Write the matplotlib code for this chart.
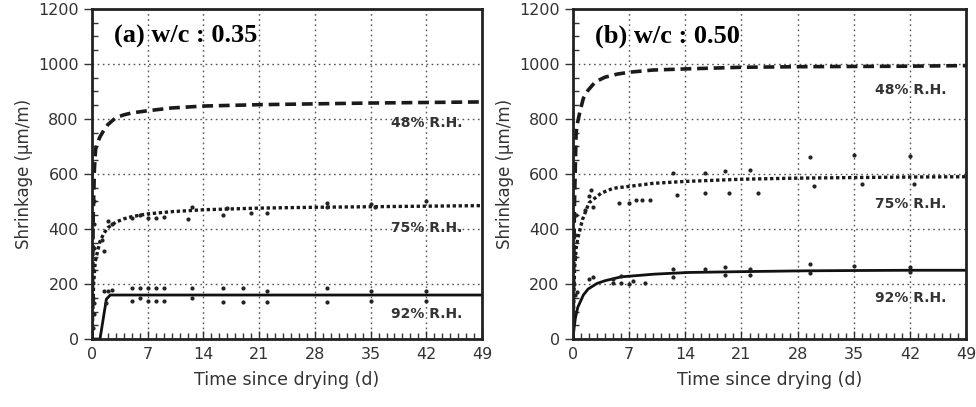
import matplotlib.pyplot as plt
from matplotlib.ticker import MultipleLocator

# ---- panel (a) w/c 0.35 ----
a48_t = [0, 0.15, 0.3, 0.45, 0.7, 1.0, 1.5, 2.0, 3.0, 4.0, 5.0, 7.0, 10, 14, 21, 28, 35, 42, 49]
a48_s = [0, 450, 620, 690, 715, 735, 760, 780, 805, 815, 822, 830, 840, 847, 852, 855, 858, 860, 862]
a75_t = [0, 0.2, 0.4, 0.7, 1.0, 1.5, 2.0, 3.0, 4.0, 5.0, 7.0, 10, 14, 21, 28, 35, 42, 49]
a75_s = [0, 200, 280, 320, 355, 385, 405, 425, 437, 445, 455, 463, 470, 476, 479, 481, 483, 485]
a92_t = [0, 1.0, 1.8, 2.3, 5, 14, 21, 28, 35, 42, 49]
a92_s = [0, 0, 145, 160, 160, 160, 160, 160, 160, 160, 160]

a75_pt_t = [0.1, 0.15, 0.2, 0.25, 0.3, 1.2, 1.5, 2.0, 2.5, 5, 6, 7, 8, 9, 12, 12.5, 16.5, 17, 20, 22, 29.5, 29.5, 35, 35.5, 42]
a75_pt_s = [150, 250, 330, 420, 500, 360, 320, 430, 420, 440, 450, 440, 440, 445, 435, 480, 450, 475, 460, 460, 495, 480, 490, 480, 500]
a92_pt_t = [0.1, 0.2, 0.3, 1.5, 1.8, 2.0, 2.5, 5, 5, 6, 6, 7, 7, 8, 8, 9, 9, 12.5, 12.5, 16.5, 16.5, 19, 19, 22, 22, 29.5, 29.5, 35, 35, 42, 42]
a92_pt_s = [40, 90, 130, 175, 130, 175, 180, 185, 140, 185, 150, 185, 140, 185, 140, 185, 140, 185, 150, 185, 135, 185, 135, 175, 135, 185, 135, 175, 140, 175, 140]

# ---- panel (b) w/c 0.50 ----
b48_t = [0, 0.2, 0.4, 0.6, 0.9, 1.3, 1.9, 2.8, 4.0, 5.5, 7.0, 10, 14, 21, 28, 35, 42, 49]
b48_s = [0, 500, 750, 790, 830, 875, 905, 935, 952, 963, 970, 978, 982, 988, 990, 991, 992, 994]
b75_t = [0, 0.2, 0.4, 0.6, 1.2, 2.0, 3.5, 5.0, 7.0, 10, 14, 21, 28, 35, 42, 49]
b75_s = [0, 250, 330, 365, 435, 495, 530, 548, 555, 566, 573, 581, 585, 587, 589, 590]
b92_t = [0, 0.15, 0.3, 0.6, 0.9, 1.3, 1.9, 3.0, 4.0, 6.0, 10.2, 14.4, 21, 29, 35, 42, 49]
b92_s = [0, 40, 75, 115, 134, 160, 182, 202, 212, 226, 236, 242, 245, 248, 249, 250, 250]

b75_pt_t = [0.1, 0.2, 0.3, 0.4, 1.5, 2.0, 2.3, 2.5, 5.8, 7.0, 7.8, 8.6, 9.6, 12.5, 13, 16.5, 16.5, 19, 19.5, 22, 23, 29.5, 30, 35, 36, 42, 42.5]
b75_pt_s = [200, 300, 380, 450, 470, 520, 540, 480, 495, 495, 505, 505, 505, 605, 525, 605, 530, 610, 530, 615, 530, 660, 555, 670, 562, 665, 562]
b92_pt_t = [0.1, 0.2, 0.5, 2.0, 2.5, 5, 5, 6, 6, 7, 7.5, 9, 12.5, 12.5, 16.5, 19, 19, 22, 22, 29.5, 29.5, 35, 42, 42]
b92_pt_s = [100, 160, 170, 220, 225, 220, 205, 228, 205, 200, 210, 205, 255, 225, 255, 262, 232, 255, 232, 272, 240, 265, 262, 245]

titles = ['(a) w/c : 0.35', '(b) w/c : 0.50']
rh_labels = ['48% R.H.', '75% R.H.', '92% R.H.']
label_y = [[785, 405, 90], [905, 492, 148]]

fig = plt.figure(figsize=(9.76, 4.07), dpi=100)
ax_a = fig.add_axes([0.0943, 0.167, 0.3996, 0.811])
ax_b = fig.add_axes([0.587, 0.167, 0.403, 0.811])

panels = [
    (ax_a, (a48_t, a48_s), (a75_t, a75_s), (a92_t, a92_s), (a75_pt_t, a75_pt_s), (a92_pt_t, a92_pt_s)),
    (ax_b, (b48_t, b48_s), (b75_t, b75_s), (b92_t, b92_s), (b75_pt_t, b75_pt_s), (b92_pt_t, b92_pt_s)),
]

for i, (ax, c48, c75, c92, p75, p92) in enumerate(panels):
    ax.plot(*c48, color='#1a1a1a', lw=2.6, ls=(0, (3, 1.6)))
    ax.plot(*c75, color='#1a1a1a', lw=2.4, ls=(0, (1, 0.8)))
    ax.plot(*c92, color='#111111', lw=2.0)
    ax.scatter(*p75, s=4, color='#222222', zorder=3)
    ax.scatter(*p92, s=4, color='#222222', zorder=3)

    ax.set_xlim(0, 49)
    ax.set_ylim(0, 1200)
    ax.set_xticks(range(0, 50, 7))
    ax.set_yticks(range(0, 1201, 200))
    ax.xaxis.set_minor_locator(MultipleLocator(1))
    ax.yaxis.set_minor_locator(MultipleLocator(50))
    ax.tick_params(axis='x', which='major', direction='in', length=6, width=1, labelsize=11.5, colors='#333333', pad=6)
    ax.tick_params(axis='x', which='minor', direction='in', length=4, width=1, colors='#333333')
    ax.tick_params(axis='y', which='major', direction='out', length=6, width=1, labelsize=11.5, colors='#333333')
    ax.tick_params(axis='y', which='minor', direction='in', length=4, width=1, colors='#333333')
    ax.grid(True, which='major', ls=(0, (1.2, 2.5)), color='#555555', lw=1)
    for sp in ax.spines.values():
        sp.set_linewidth(2)
        sp.set_color('#222222')

    ax.set_xlabel('Time since drying (d)', fontsize=12.5, color='#333333', labelpad=6)
    ax.set_ylabel('Shrinkage (μm/m)', fontsize=12, color='#333333')
    ax.text(2.8, 1100, titles[i], fontsize=19, fontweight='bold', family='Liberation Serif', va='center')
    for lab, yv in zip(rh_labels, label_y[i]):
        ax.text(46.5, yv, lab, fontsize=10, fontweight='bold', color='#333333', ha='right', va='center')

fig.savefig('out.png', dpi=100, facecolor='white')
